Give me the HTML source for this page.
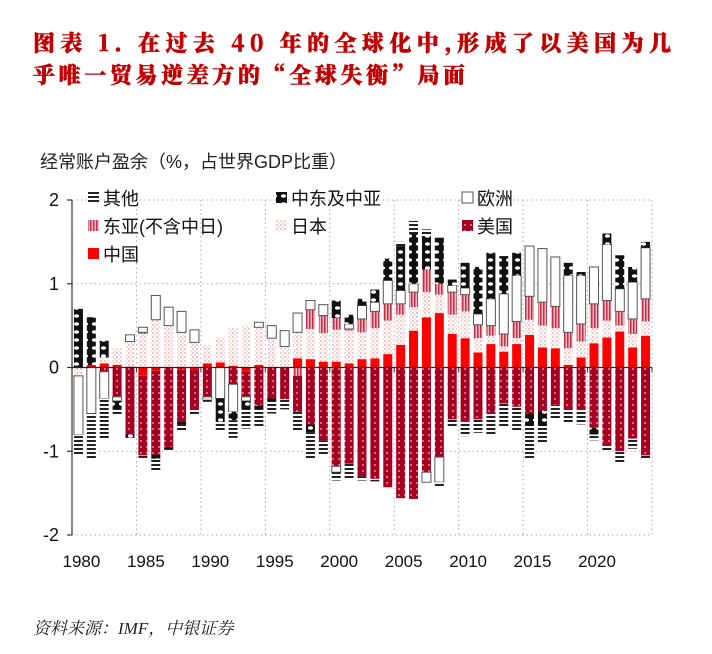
<!DOCTYPE html>
<html><head><meta charset="utf-8">
<style>
html,body{margin:0;padding:0;background:#fff;}
svg{display:block;}
</style></head>
<body>
<svg id="chart" width="712" height="654" xmlns="http://www.w3.org/2000/svg" font-family="'Liberation Sans','Noto Sans CJK SC',sans-serif">
<defs>
  <pattern id="pUS" width="6" height="6" patternUnits="userSpaceOnUse">
    <rect width="6" height="6" fill="#a50021"/><circle cx="3" cy="3" r="0.9" fill="#f3b8c4"/>
  </pattern>
  <pattern id="pJP" width="4" height="4" patternUnits="userSpaceOnUse">
    <rect width="4" height="4" fill="#fff"/><rect x="0" y="0" width="2" height="2" fill="#f6c4c4"/><rect x="2" y="2" width="2" height="2" fill="#fbdede"/>
  </pattern>
  <pattern id="pEA" width="3" height="4" patternUnits="userSpaceOnUse">
    <rect width="3" height="4" fill="#f2b8c0"/><rect x="0" y="0" width="1.5" height="4" fill="#c0304a"/>
  </pattern>
  <pattern id="pME" width="9" height="8" patternUnits="userSpaceOnUse">
    <rect width="9" height="8" fill="#111"/><ellipse cx="4.5" cy="4" rx="2.6" ry="1.8" fill="#fff"/>
  </pattern>
  <pattern id="pOT" width="4" height="4" patternUnits="userSpaceOnUse">
    <rect width="4" height="4" fill="#fff"/><rect width="4" height="2" fill="#222"/>
  </pattern>
</defs>

<text x="33" y="51" font-size="22" font-weight="900" fill="#c00000" stroke="#c00000" stroke-width="0.5" font-family="'Noto Serif CJK SC','Liberation Serif',serif" textLength="638" lengthAdjust="spacing">图表 1. 在过去 40 年的全球化中,形成了以美国为几</text>
<text x="33" y="83" font-size="22" font-weight="900" fill="#c00000" stroke="#c00000" stroke-width="0.5" font-family="'Noto Serif CJK SC','Liberation Serif',serif" textLength="432" lengthAdjust="spacing">乎唯一贸易逆差方的“全球失衡”局面</text>
<text x="40" y="168" font-size="18" fill="#222">经常账户盈余（%，占世界GDP比重）</text>
<text x="33" y="634" font-size="17" font-style="italic" fill="#222" font-family="'Liberation Serif','Noto Serif CJK SC',serif">资料来源：IMF，中银证券</text>

<g id="grid"></g>
<g id="bars"></g>
<g id="axes"></g>
<g id="legend"></g>
</svg>
<script>
const years = [];
for (let y = 1980; y <= 2024; y++) years.push(y);
const seriesNames = ['中国','日本','东亚(不含中日)','美国','欧洲','中东及中亚','其他'];
const china  = [0,0.03,0.05,0.03,0.01,-0.1,-0.04,0,-0.02,-0.03,0.05,0.06,0.02,-0.05,0.03,0,0,0.11,0.1,0.07,0.07,0.05,0.1,0.11,0.16,0.27,0.44,0.6,0.65,0.4,0.35,0.18,0.28,0.19,0.28,0.39,0.24,0.23,0.03,0.12,0.29,0.36,0.43,0.24,0.38];
const japan  = [-0.1,0,0.07,0.2,0.3,0.4,0.57,0.5,0.42,0.3,0.22,0.3,0.45,0.5,0.45,0.35,0.25,0.31,0.36,0.34,0.38,0.39,0.32,0.36,0.4,0.36,0.28,0.3,0.22,0.23,0.32,0.17,0.1,0.06,0.07,0.18,0.26,0.24,0.2,0.19,0.18,0.2,0.07,0.16,0.17];
const eastAsia = [0,0,0,0,0,0.02,0,0,0,0,0,0,0,0,0,0,0,-0.1,0.23,0.21,0.14,0.02,0.16,0.2,0.2,0.13,0.18,0.27,0.13,0.27,0.2,0.16,0.12,0.15,0.2,0.28,0.28,0.26,0.19,0.21,0.29,0.24,0.17,0.18,0.27];
const usa    = [0,0,-0.05,-0.35,-0.8,-0.95,-1.0,-0.95,-0.63,-0.47,-0.35,0,-0.2,-0.3,-0.45,-0.37,-0.38,-0.43,-0.68,-0.87,-1.18,-1.15,-1.3,-1.33,-1.43,-1.56,-1.57,-1.25,-1.07,-0.62,-0.65,-0.62,-0.55,-0.43,-0.47,-0.55,-0.52,-0.45,-0.5,-0.5,-0.72,-0.93,-1.0,-0.85,-1.05];
const europe = [-0.7,-0.55,-0.32,-0.05,0.08,0.06,0.29,0.22,0.25,0.15,-0.03,-0.37,-0.33,-0.05,0.06,0.15,0.19,0.23,0.11,0.13,-0.07,0.06,0.16,0.11,0.28,0.16,0.1,-0.12,-0.3,0.08,0.08,0.13,0.32,0.48,0.55,0.6,0.64,0.59,0.68,0.58,0.44,0.67,0.27,0.44,0.61];
const mideast = [0.7,0.57,0.2,-0.1,-0.04,0,-0.05,-0.03,-0.03,0,0,-0.28,-0.1,-0.1,-0.05,-0.03,0,0,-0.1,0,0.21,0.11,0.08,0.15,0.26,0.53,0.6,0.4,0.55,0.07,0.3,0.56,0.55,0.45,0.27,-0.15,-0.18,0,0.15,0.04,-0.08,0.13,0.4,0.18,0.07];
const others = [-0.25,-0.55,-0.48,-0.07,-0.02,-0.03,-0.15,-0.02,-0.07,-0.06,-0.03,-0.12,-0.21,-0.23,-0.22,-0.15,-0.12,-0.24,-0.32,-0.18,-0.1,-0.18,-0.05,-0.03,0,0.05,0.15,0.08,-0.05,-0.1,-0.17,-0.16,-0.25,-0.29,-0.3,-0.38,-0.2,-0.17,-0.17,-0.18,-0.07,-0.07,-0.15,-0.12,-0.05];
const yTicks = [2,1,0,-1,-2];
const xTickLabels = [1980,1985,1990,1995,2000,2005,2010,2015,2020];

const NS='http://www.w3.org/2000/svg';
const plotL=72, plotR=652, plotT=200, plotB=535, yMax=2, yMin=-2;
const band=(plotR-plotL)/years.length, barW=9;
function yScale(v){return plotT+(yMax-v)/(yMax-yMin)*(plotB-plotT);}
function xCenter(i){return plotL+band*(i+0.5);}
function mk(tag,attrs,parent){const e=document.createElementNS(NS,tag);for(const k in attrs)e.setAttribute(k,attrs[k]);parent.appendChild(e);return e;}

const grid=document.getElementById('grid');
yTicks.forEach(t=>{ if(t!==0){
  const l=mk('line',{x1:plotL,x2:plotR,y1:yScale(t),y2:yScale(t),stroke:'#aaa','stroke-dasharray':'1.5,3','stroke-width':1},grid);
  
  
}});
xTickLabels.forEach((yr,j)=>{
  const i=years.indexOf(yr);
  const x=plotL+band*i;
  if(j>0){
    const l=mk('line',{x1:x,x2:x,y1:plotT,y2:plotB,stroke:'#aaa','stroke-dasharray':'1.5,3','stroke-width':1},grid);
    
    
  }
});
{
  const l=mk('line',{x1:plotR,x2:plotR,y1:plotT,y2:plotB,stroke:'#aaa','stroke-dasharray':'1.5,3','stroke-width':1},grid);
  
  
}

const fills=['#ff0000','url(#pJP)','url(#pEA)','url(#pUS)','#ffffff','url(#pME)','url(#pOT)'];
const strokes=['none','none','none','none','#555','none','none'];
const series=[china,japan,eastAsia,usa,europe,mideast,others];
const keys=['china','japan','east-asia','usa','europe','middle-east','others'];
const barsG=document.getElementById('bars');
years.forEach((yr,i)=>{
  let pos=0,neg=0;
  series.forEach((arr,s)=>{
    const v=arr[i]; if(!v) return;
    let a,b;
    if(v>0){a=pos;b=pos+v;pos=b;}else{a=neg;b=neg+v;neg=b;}
    const y1=yScale(Math.max(a,b)), y2=yScale(Math.min(a,b));
    const r=mk('rect',{x:xCenter(i)-barW/2,y:y1,width:barW,height:Math.max(0.5,y2-y1),fill:fills[s],stroke:strokes[s],'stroke-width':strokes[s]==='none'?0:1},barsG);
    
    
  });
});

const axes=document.getElementById('axes');
{
  const a=mk('line',{x1:plotL,x2:plotL,y1:plotT,y2:plotB,stroke:'#333','stroke-width':1.2},axes);
  
  
  const z=mk('line',{x1:plotL,x2:plotR,y1:yScale(0),y2:yScale(0),stroke:'#222','stroke-width':1.2},axes);
  
  
}
yTicks.forEach(t=>{
  const tk=mk('line',{x1:plotL-5,x2:plotL,y1:yScale(t),y2:yScale(t),stroke:'#333','stroke-width':1.2},axes);
  
  
  const tx=mk('text',{x:plotL-13,y:yScale(t)+6,'font-size':18,'text-anchor':'end',fill:'#111'},axes);
  tx.textContent=String(t);
  
  
});
xTickLabels.forEach((yr,j)=>{
  const i=years.indexOf(yr);
  if(j>0){
    const x=plotL+band*i;
    const tk=mk('line',{x1:x,x2:x,y1:yScale(0),y2:yScale(0)+5,stroke:'#333','stroke-width':1},axes);
    
    
  }
  const tx=mk('text',{x:xCenter(i)+3,y:567,'font-size':17,'text-anchor':'middle',fill:'#111'},axes);
  tx.textContent=String(yr);
  
  
});
{
  const tk=mk('line',{x1:plotR,x2:plotR,y1:yScale(0),y2:yScale(0)+5,stroke:'#333','stroke-width':1},axes);
  
  
}

const legend=document.getElementById('legend');
const legendItems=[
  {label:'其他',fill:'url(#pOT)',stroke:'none',x:88,y:198},
  {label:'中东及中亚',fill:'url(#pME)',stroke:'none',x:276,y:198},
  {label:'欧洲',fill:'#fff',stroke:'#555',x:462,y:198},
  {label:'东亚(不含中日)',fill:'url(#pEA)',stroke:'none',x:88,y:226},
  {label:'日本',fill:'url(#pJP)',stroke:'none',x:276,y:226},
  {label:'美国',fill:'url(#pUS)',stroke:'none',x:462,y:226},
  {label:'中国',fill:'#ff0000',stroke:'none',x:88,y:254}
];
legendItems.forEach(it=>{
  const r=mk('rect',{x:it.x,y:it.y-6,width:11,height:11,fill:it.fill,stroke:it.stroke,'stroke-width':it.stroke==='none'?0:1},legend);
  
  
  const t=mk('text',{x:it.x+15,y:it.y+7,'font-size':18,fill:'#111'},legend);
  t.textContent=it.label;
  
  
});
</script>
</body></html>
